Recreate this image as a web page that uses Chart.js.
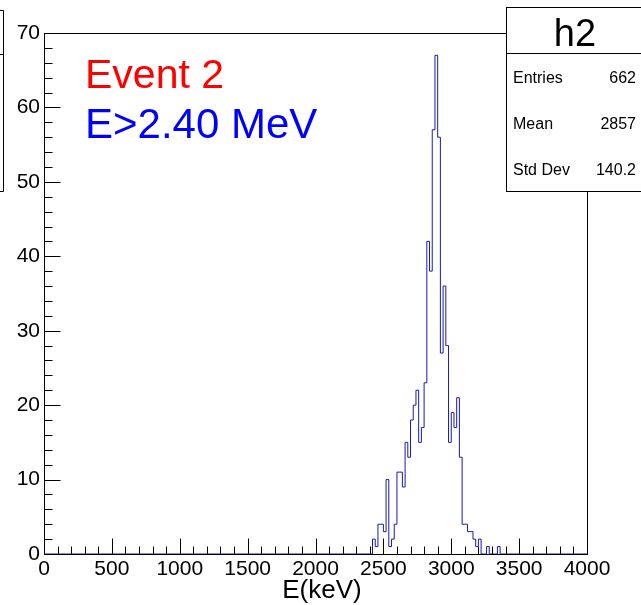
<!DOCTYPE html>
<html>
<head>
<meta charset="utf-8">
<script src="https://cdn.jsdelivr.net/npm/chart.js@4.4.1/dist/chart.umd.min.js"></script>
<style>
  html, body { margin: 0; padding: 0; background: #fff; }
  #wrap { position: relative; width: 641px; height: 605px; }
</style>
</head>
<body>
<div id="wrap"><canvas id="c" width="641" height="605"></canvas></div>
<script>
// --- DATA (20 keV bins) ---
const binWidth = 20;
const firstBinLow = 2420;
const counts = [2, 1, 4, 4, 3, 10, 1, 2, 4, 11, 11, 9, 15, 13, 18, 20, 22, 15, 17, 23,
                42, 38, 57, 67, 56, 27, 36, 28, 15, 19, 17, 21, 13, 4, 4, 3, 3, 2, 1, 2,
                0, 0, 1, 0, 0, 0, 1];
const xRange = [0, 4000];
const yRange = [0, 70];
const xTicks = [0, 500, 1000, 1500, 2000, 2500, 3000, 3500, 4000];
const yTicks = [0, 10, 20, 30, 40, 50, 60, 70];
const xMinorStep = 100;
const yMinorStep = 2;
const histName = 'h2';
const statLabels = ['Entries', 'Mean', 'Std Dev'];
const statValues = ['662', '2857', '140.2'];
const xTitle = 'E(keV)';
const noteLines = ['Event 2', 'E>2.40 MeV'];
const noteColors = ['#ff0000', '#0000ff'];

const FONT = '"Liberation Sans", Arial, Helvetica, sans-serif';

// step outline: each bin value is held from its low edge to the next edge
const points = [{ x: xRange[0], y: 0 }];
counts.forEach((c, i) => points.push({ x: firstBinLow + i * binWidth, y: c }));
points.push({ x: firstBinLow + counts.length * binWidth, y: 0 });
points.push({ x: xRange[1], y: 0 });

// --- ROOT-style frame, inner ticks, pave boxes and texts ---
const rootDecor = {
    id: 'rootDecor',
    beforeDatasetsDraw(chart) {
        const { ctx, chartArea: a, scales: { x, y } } = chart;
        const L = Math.round(a.left) + 0.5, R = Math.round(a.right) + 0.5;
        const T = Math.round(a.top) + 0.5, B = Math.round(a.bottom) + 0.5;
        ctx.save();
        ctx.strokeStyle = '#000';
        ctx.lineWidth = 1;
        ctx.strokeRect(L, T, R - L, B - T);

        ctx.beginPath();
        for (let v = xRange[0]; v <= xRange[1]; v += xMinorStep) {
            const px = Math.round(x.getPixelForValue(v)) + 0.5;
            const len = xTicks.includes(v) ? 16 : 8;
            ctx.moveTo(px, B); ctx.lineTo(px, B - len);
        }
        for (let v = yRange[0]; v <= yRange[1]; v += yMinorStep) {
            const py = Math.round(y.getPixelForValue(v)) + 0.5;
            const len = yTicks.includes(v) ? 16 : 8;
            ctx.moveTo(L, py); ctx.lineTo(L + len, py);
        }
        ctx.stroke();
        ctx.restore();
    },
    afterDraw(chart) {
        const { ctx } = chart;
        ctx.save();
        ctx.strokeStyle = '#000';
        ctx.lineWidth = 1;

        // partly hidden pave at the left edge
        ctx.beginPath();
        ctx.moveTo(0, 10.5); ctx.lineTo(3.5, 10.5); ctx.lineTo(3.5, 191.5); ctx.lineTo(0, 191.5);
        ctx.moveTo(0, 54.5); ctx.lineTo(3.5, 54.5);
        ctx.stroke();

        // stats box
        const bx = 506.5, by = 7.5, bw = 140, bh = 184;
        ctx.fillStyle = '#fff';
        ctx.fillRect(bx, by, bw, bh);
        ctx.strokeRect(bx, by, bw, bh);
        ctx.beginPath();
        ctx.moveTo(bx, 53.5); ctx.lineTo(641, 53.5);
        ctx.stroke();

        ctx.fillStyle = '#000';
        ctx.textAlign = 'center';
        ctx.textBaseline = 'alphabetic';
        ctx.font = `38px ${FONT}`;
        ctx.fillText(histName, 575, 46);

        ctx.font = `16px ${FONT}`;
        statLabels.forEach((lab, i) => {
            const yy = 83 + i * 46;
            ctx.textAlign = 'left';
            ctx.fillText(lab, 513, yy);
            ctx.textAlign = 'right';
            ctx.fillText(statValues[i], 636, yy);
        });

        // annotations
        ctx.textAlign = 'left';
        noteLines.forEach((t, i) => {
            ctx.font = `${i === 0 ? 41 : 42}px ${FONT}`;
            ctx.fillStyle = noteColors[i];
            ctx.fillText(t, 85, 88 + i * 50);
        });

        // x axis title
        ctx.fillStyle = '#000';
        ctx.textAlign = 'center';
        ctx.font = `26px ${FONT}`;
        ctx.fillText(xTitle, 322, 598);
        ctx.restore();
    }
};

const plainLabel = v => String(v);

new Chart(document.getElementById('c'), {
    type: 'line',
    data: {
        datasets: [{
            data: points,
            stepped: 'before',
            borderColor: '#1a1ab0',
            borderWidth: 1,
            pointRadius: 0,
            fill: false
        }]
    },
    options: {
        responsive: false,
        animation: false,
        events: [],
        layout: { padding: { top: 33, right: 54, left: 0, bottom: 0 } },
        plugins: { legend: { display: false }, tooltip: { enabled: false } },
        scales: {
            x: {
                type: 'linear',
                min: xRange[0], max: xRange[1],
                afterBuildTicks: s => { s.ticks = xTicks.map(v => ({ value: v })); },
                afterFit: s => { s.height = 51; },
                grid: { display: false, drawTicks: false },
                border: { display: false },
                ticks: { color: '#000', font: { family: FONT, size: 21 }, padding: 3, maxRotation: 0, autoSkip: false, callback: plainLabel }
            },
            y: {
                type: 'linear',
                min: yRange[0], max: yRange[1],
                afterBuildTicks: s => { s.ticks = yTicks.map(v => ({ value: v })); },
                afterFit: s => { s.width = 44; },
                grid: { display: false, drawTicks: false },
                border: { display: false },
                ticks: { color: '#000', font: { family: FONT, size: 21 }, padding: 4, autoSkip: false, callback: plainLabel }
            }
        }
    },
    plugins: [rootDecor]
});
</script>
</body>
</html>
